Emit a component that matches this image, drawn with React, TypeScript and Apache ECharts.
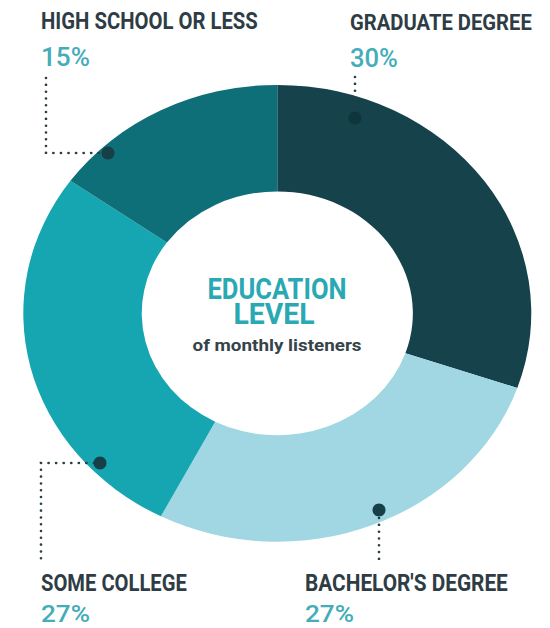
import React, { useEffect, useRef } from "react";
import * as echarts from "echarts";

// ---- data ----
const categories = ["Graduate Degree", "Bachelor's Degree", "Some College", "High School or Less"];
const values = [30, 27, 27, 15];
const labelNames = ["GRADUATE DEGREE", "BACHELOR'S DEGREE", "SOME COLLEGE", "HIGH SCHOOL OR LESS"];
const centerTitle = ["EDUCATION", "LEVEL"];
const centerSubtitle = "of monthly listeners";

// ---- styles / layout ----
const colors = ["#16424b", "#a0d7e3", "#15a6b1", "#0f6f78"];
const S = 1.112; // horizontal stretch of the reference picture
const PAGE_W = 550;
const PAGE_H = 628;
const CHART_W = PAGE_W / S;
const FONT = "Roboto";

const labelLayout = [
  { x: 350, nameY: 22, nameW: 182, pctY: 58, pctW: 48, pctSize: 26 },
  { x: 305, nameY: 583.5, nameW: 203, pctY: 614, pctW: 49, pctSize: 24 },
  { x: 41, nameY: 583.5, nameW: 146, pctY: 614, pctW: 49, pctSize: 24 },
  { x: 41, nameY: 21.5, nameW: 217, pctY: 57.5, pctW: 49, pctSize: 26 },
];

const leaders = [
  { pts: [[355, 77], [355, 111]], dot: [355, 118], dotColor: "#0e343c" },
  { pts: [[379, 518], [379, 563]], dot: [379, 510], dotColor: "#173f48" },
  { pts: [[94, 463], [41, 463], [41, 563]], dot: [100, 463], dotColor: "#173f48" },
  { pts: [[46, 78], [46, 153], [102, 153]], dot: [108, 153], dotColor: "#173f48" },
];

let ctx: CanvasRenderingContext2D | null = null;
function measure(text: string, font: string) {
  if (!ctx) ctx = document.createElement("canvas").getContext("2d");
  ctx!.font = font;
  return ctx!.measureText(text).width;
}

function textEl(
  text: string,
  xPage: number,
  y: number,
  targetW: number,
  size: number,
  weight: string,
  color: string,
  align: string
) {
  const font = `${weight} ${size}px ${FONT}`;
  const w = measure(text, font);
  const sx = targetW / (w * S);
  return {
    type: "text",
    x: xPage / S,
    y,
    scaleX: sx,
    z: 100,
    silent: true,
    style: {
      text,
      font,
      fill: color,
      align,
      verticalAlign: "middle",
      textAlign: align,
      textVerticalAlign: "middle",
    },
  };
}

export default function App() {
  const ref = useRef<HTMLDivElement>(null);

  useEffect(() => {
    if (!ref.current) return;
    const chart = echarts.init(ref.current, undefined, { renderer: "svg" });

    const graphics: any[] = [];
    labelNames.forEach((name, i) => {
      const L = labelLayout[i];
      graphics.push(textEl(name, L.x, L.nameY, L.nameW, 23, "bold", "#2e3d45", "left"));
      graphics.push(textEl(`${values[i]}%`, L.x, L.pctY, L.pctW, L.pctSize, "500", "#45adb8", "left"));
    });
    leaders.forEach((ld) => {
      graphics.push({
        type: "polyline",
        z: 90,
        silent: true,
        shape: { points: ld.pts.map(([x, y]) => [x / S, y]) },
        style: {
          stroke: "#2e3d45",
          lineWidth: 2.4,
          lineDash: [0.1, 6.7],
          lineCap: "round",
          fill: null,
        },
      });
      graphics.push({
        type: "ellipse",
        z: 95,
        silent: true,
        shape: { cx: ld.dot[0] / S, cy: ld.dot[1], rx: 6.5 / S, ry: 6.5 },
        style: { fill: ld.dotColor },
      });
    });
    graphics.push(textEl(centerTitle[0], 277, 289, 139, 29, "bold", "#2aa9b4", "center"));
    graphics.push(textEl(centerTitle[1], 274, 314, 81, 29, "bold", "#2aa9b4", "center"));
    graphics.push(textEl(centerSubtitle, 277, 346, 169, 16, "bold", "#354449", "center"));

    chart.setOption({
      animation: false,
      backgroundColor: "#ffffff",
      series: [
        {
          type: "pie",
          center: [277.3 / S, 313.3],
          radius: [121.9, 228.4],
          startAngle: 90,
          clockwise: true,
          silent: true,
          avoidLabelOverlap: false,
          label: { show: false },
          labelLine: { show: false },
          emphasis: { disabled: true },
          itemStyle: { borderWidth: 0 },
          data: categories.map((n, i) => ({
            name: n,
            value: values[i],
            itemStyle: { color: colors[i] },
          })),
        },
      ],
      graphic: graphics,
    });

    return () => chart.dispose();
  }, []);

  return (
    <div
      style={{
        position: "fixed",
        left: 0,
        top: 0,
        width: PAGE_W,
        height: PAGE_H,
        overflow: "hidden",
        background: "#fff",
      }}
    >
      <div
        ref={ref}
        style={{
          width: CHART_W,
          height: PAGE_H,
          transform: `scaleX(${S})`,
          transformOrigin: "0 0",
        }}
      />
    </div>
  );
}
